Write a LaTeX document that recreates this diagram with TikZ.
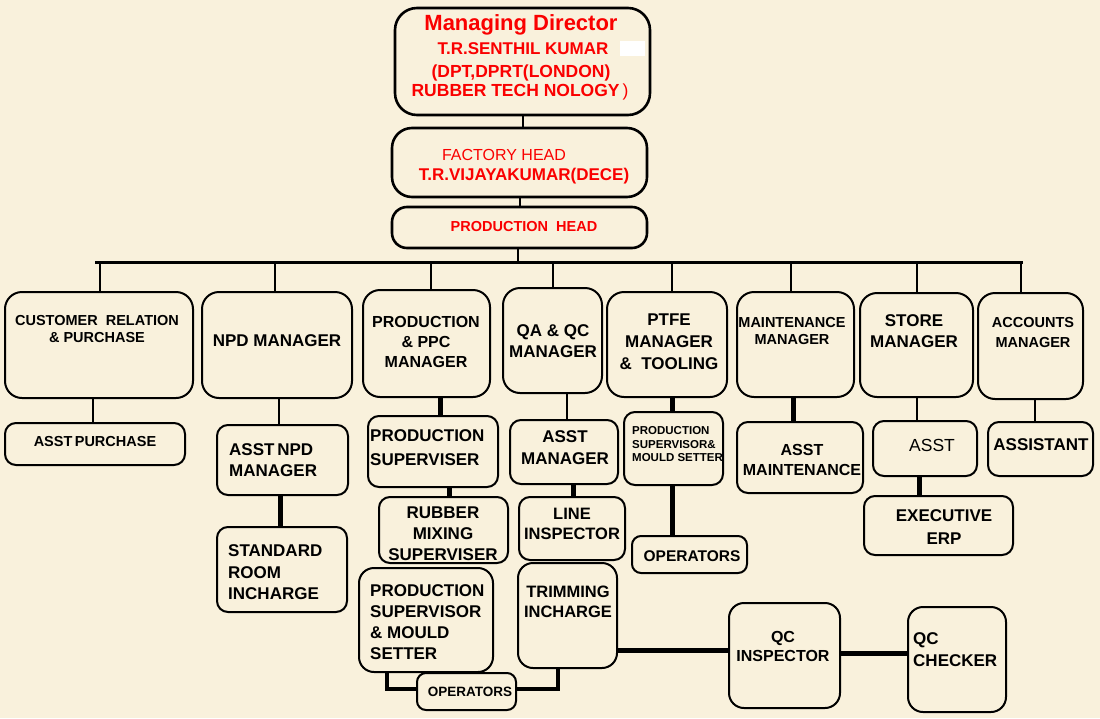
\documentclass[tikz,border=0pt]{standalone}
\usepackage{fontspec}
\setmainfont{Liberation Sans}
\definecolor{bg}{RGB}{249,241,220}
\definecolor{mdred}{RGB}{250,0,0}
\newcommand\fsz[2]{\fontsize{#1}{#2}\selectfont}
\newcommand\obox[6]{\node[#6, minimum width=#4-#2, minimum height=#5-#3] (#1) at ({(#2+#4)/2},{(#3+#5)/2}) {};}
\tikzset{
  bx/.style={draw=black, line width=2pt, rounded corners=17pt, inner sep=0pt, outer sep=0pt},
  sbx/.style={bx, rounded corners=11pt},
  topbx/.style={bx, line width=2.6pt, rounded corners=22pt},
  tx/.style={inner sep=0pt, text=black, font=\bfseries},
  rtx/.style={inner sep=0pt, text=mdred, font=\bfseries},
  ln/.style={line width=2pt},
  thk/.style={line width=5pt},
}
\begin{document}
\begin{tikzpicture}[x=1pt,y=-1pt]
\fill[bg] (0,0) rectangle (1100,718);
\useasboundingbox (0,0) rectangle (1100,718);
% top boxes
\obox{md}{395}{8}{650}{115}{topbx}
\obox{fh}{392}{128}{647}{197}{topbx, rounded corners=20pt}
\obox{ph}{392}{207}{647}{248}{topbx, rounded corners=15pt}
\fill[white] (620,41) rectangle (645,56);
\node[rtx, font=\bfseries\fsz{22}{26}] (t-md1) at (521,25) {Managing Director};
\node[rtx, font=\bfseries\fsz{17}{20}] (t-md2) at (523,49) {T.R.SENTHIL KUMAR};
\node[rtx, font=\bfseries\fsz{17.5}{20}] (t-md3) at (521,73) {(DPT,DPRT(LONDON)};
\node[rtx, font=\bfseries\fsz{17.5}{20}] (t-md4) at (520,92) {RUBBER TECH NOLOGY\,{\mdseries)}};
\node[rtx, font=\fsz{16}{18}] (t-fh1) at (504,155) {FACTORY HEAD};
\node[rtx, font=\bfseries\fsz{17}{20}] (t-fh2) at (524,176) {T.R.VIJAYAKUMAR(DECE)};
\node[rtx, font=\bfseries\fsz{14.5}{18}] (t-ph) at (524,227) {PRODUCTION\ \ HEAD};
\draw[ln] (md.south) -- (md.south |- fh.north);
\draw[ln] (fh.south) -- (fh.south |- ph.north);
% bus
\coordinate (busL) at (95,262);
\coordinate (busR) at (1023,262);
\draw[line width=3pt] (busL) -- (busR);
\draw[ln] ([xshift=-1.5pt]ph.south) -- ([xshift=-1.5pt]ph.south |- busL);
% managers
\obox{cr}{5}{292}{193}{398}{bx}
\obox{npd}{202}{292}{352}{398}{bx}
\obox{ppc}{363}{290}{490}{397}{bx}
\obox{qa}{503}{288}{602}{393}{bx}
\obox{ptfe}{607}{292}{727}{397}{bx}
\obox{mnt}{737}{292}{854}{397}{bx}
\obox{sto}{860}{293}{973}{397}{bx}
\obox{acc}{978}{293}{1083}{399}{bx}
\draw[ln] ([xshift=1pt]cr.north) -- ([xshift=1pt]cr.north |- busL);
\draw[ln] ([xshift=-2pt]npd.north) -- ([xshift=-2pt]npd.north |- busL);
\draw[ln] ([xshift=4pt]ppc.north) -- ([xshift=4pt]ppc.north |- busL);
\draw[ln] (qa.north) -- (qa.north |- busL);
\draw[ln] ([xshift=5pt]ptfe.north) -- ([xshift=5pt]ptfe.north |- busL);
\draw[ln] ([xshift=-4.5pt]mnt.north) -- ([xshift=-4.5pt]mnt.north |- busL);
\draw[ln] (sto.north) -- (sto.north |- busL);
\draw[ln] ([xshift=-9.5pt]acc.north) -- ([xshift=-9.5pt]acc.north |- busL);
\node[tx, font=\bfseries\fsz{14.5}{17}, align=center] (t-cr) at (97,329.5) {CUSTOMER\ \ RELATION\\\& PURCHASE};
\node[tx, font=\bfseries\fsz{17}{20}] (t-npd) at (277,341) {NPD MANAGER};
\node[tx, font=\bfseries\fsz{16}{20}, align=center] (t-ppc) at (426,342) {PRODUCTION\\\& PPC\\MANAGER};
\node[tx, font=\bfseries\fsz{17}{21}, align=center] (t-qa) at (553,341.5) {QA \& QC\\MANAGER};
\node[tx, font=\bfseries\fsz{17}{22}, align=center] (t-ptfe) at (669,342) {PTFE\\MANAGER\\\&\ \ TOOLING};
\node[tx, font=\bfseries\fsz{14.5}{17}, align=center] (t-mnt) at (792,331.5) {MAINTENANCE\\MANAGER};
\node[tx, font=\bfseries\fsz{17}{21}, align=center] (t-sto) at (914,331.5) {STORE\\MANAGER};
\node[tx, font=\bfseries\fsz{14.5}{20}, align=center] (t-acc) at (1033,333) {ACCOUNTS\\MANAGER};
% second level
\obox{ap}{5}{423}{185}{465}{sbx}
\obox{anpd}{217}{425}{348}{495}{sbx}
\obox{std}{217}{527}{347}{612}{sbx}
\obox{ps}{368}{416}{498}{487}{sbx}
\obox{rms}{379}{497}{508}{563}{sbx}
\obox{psms}{359}{568}{493}{672}{sbx, rounded corners=15pt}
\obox{opb}{417}{673}{516}{710}{sbx, rounded corners=9pt}
\obox{am}{510}{420}{618}{484}{sbx}
\obox{li}{519}{497}{625}{560}{sbx}
\obox{trim}{518}{563}{617}{668}{sbx, rounded corners=15pt}
\obox{qci}{729}{603}{840}{708}{sbx, rounded corners=15pt}
\obox{qcc}{908}{607}{1006}{712}{sbx, rounded corners=15pt}
\obox{pts}{624}{412}{723}{485}{sbx}
\obox{opp}{632}{536}{747}{573}{sbx, rounded corners=9pt}
\obox{amnt}{737}{422}{863}{493}{sbx}
\obox{ast}{873}{421}{977}{476}{sbx}
\obox{erp}{864}{496}{1013}{555}{sbx}
\obox{asn}{988}{422}{1093}{476}{sbx}
% connectors
\draw[ln] ([xshift=-6pt]cr.south) -- ([xshift=-6pt]cr.south |- ap.north);
\draw[ln] ([xshift=2pt]npd.south) -- ([xshift=2pt]npd.south |- anpd.north);
\draw[thk] ([xshift=-2.5pt]anpd.south) -- ([xshift=-2.5pt]anpd.south |- std.north);
\draw[thk] ([xshift=13.5pt]ppc.south) -- ([xshift=13.5pt]ppc.south |- ps.north);
\draw[thk] ([xshift=16pt]ps.south) -- ([xshift=16pt]ps.south |- rms.north);
\draw[ln] ([xshift=14.5pt]qa.south) -- ([xshift=14.5pt]qa.south |- am.north);
\draw[thk] ([xshift=9pt]am.south) -- ([xshift=9pt]am.south |- li.north);
\draw[thk] ([xshift=5pt]ptfe.south) -- ([xshift=5pt]ptfe.south |- pts.north);
\draw[thk] ([xshift=-1.5pt]pts.south) -- ([xshift=-1.5pt]pts.south |- opp.north);
\draw[thk] ([xshift=-2.5pt]mnt.south) -- ([xshift=-2.5pt]mnt.south |- amnt.north);
\draw[ln] (sto.south) -- (sto.south |- ast.north);
\draw[thk] ([xshift=-6pt]ast.south) -- ([xshift=-6pt]ast.south |- erp.north);
\draw[ln] ([xshift=4.5pt]acc.south) -- ([xshift=4.5pt]acc.south |- asn.north);
\draw[thk] ([yshift=-34.5pt]trim.east) -- ([yshift=-34.5pt]trim.east -| qci.west);
\draw[thk] ([yshift=2.5pt]qci.east) -- ([yshift=2.5pt]qci.east -| qcc.west);
\draw[line width=4pt] ([xshift=-39pt]psms.south) |- ([yshift=2.5pt]opb.west);
\draw[line width=4pt] ([yshift=2.5pt]opb.east) -| ([xshift=-9.5pt]trim.south);
% texts
\node[tx, font=\bfseries\fsz{14.5}{17}] (t-ap) at (95,442) {ASST\,PURCHASE};
\node[tx, font=\bfseries\fsz{17}{21}, align=left, anchor=west] (t-anpd) at (229,460.5) {ASST\,NPD\\MANAGER};
\node[tx, font=\bfseries\fsz{17}{21.5}, align=left, anchor=west] (t-std) at (228,572.5) {STANDARD\\ROOM\\INCHARGE};
\node[tx, font=\bfseries\fsz{17}{24}, align=left, anchor=west] (t-ps) at (370,448) {PRODUCTION\\SUPERVISER};
\node[tx, font=\bfseries\fsz{17}{21}, align=center] (t-rms) at (443,534) {RUBBER\\MIXING\\SUPERVISER};
\node[tx, font=\bfseries\fsz{17}{21}, align=left, anchor=west] (t-psms) at (370,622.5) {PRODUCTION\\SUPERVISOR\\\& MOULD\\SETTER};
\node[tx, font=\bfseries\fsz{13.5}{16}] (t-opb) at (470,692) {OPERATORS};
\node[tx, font=\bfseries\fsz{17}{22}, align=center] (t-am) at (565,448) {ASST\\MANAGER};
\node[tx, font=\bfseries\fsz{16.5}{20}, align=center] (t-li) at (572,524) {LINE\\INSPECTOR};
\node[tx, font=\bfseries\fsz{16.5}{20}, align=center] (t-trim) at (568,602) {TRIMMING\\INCHARGE};
\node[tx, font=\bfseries\fsz{11.5}{13.5}, align=left, anchor=west] (t-pts) at (632,444.5) {PRODUCTION\\SUPERVISOR\&\\MOULD SETTER};
\node[tx, font=\bfseries\fsz{15.5}{18}] (t-opp) at (692,556) {OPERATORS};
\node[tx, font=\bfseries\fsz{16}{20}, align=center] (t-amnt) at (802,460) {ASST\\MAINTENANCE};
\node[tx, font=\fsz{17.5}{20}] (t-ast) at (932,445) {ASST};
\node[tx, font=\bfseries\fsz{17}{20}] (t-asn) at (1041,445) {ASSISTANT};
\node[tx, font=\bfseries\fsz{17}{23}, align=center] (t-erp) at (944,527.5) {EXECUTIVE\\ERP};
\node[tx, font=\bfseries\fsz{16}{19}, align=center] (t-qci) at (783,646.5) {QC\\INSPECTOR};
\node[tx, font=\bfseries\fsz{17}{22}, align=left, anchor=west] (t-qcc) at (913,650) {QC\\CHECKER};
\end{tikzpicture}
\end{document}
